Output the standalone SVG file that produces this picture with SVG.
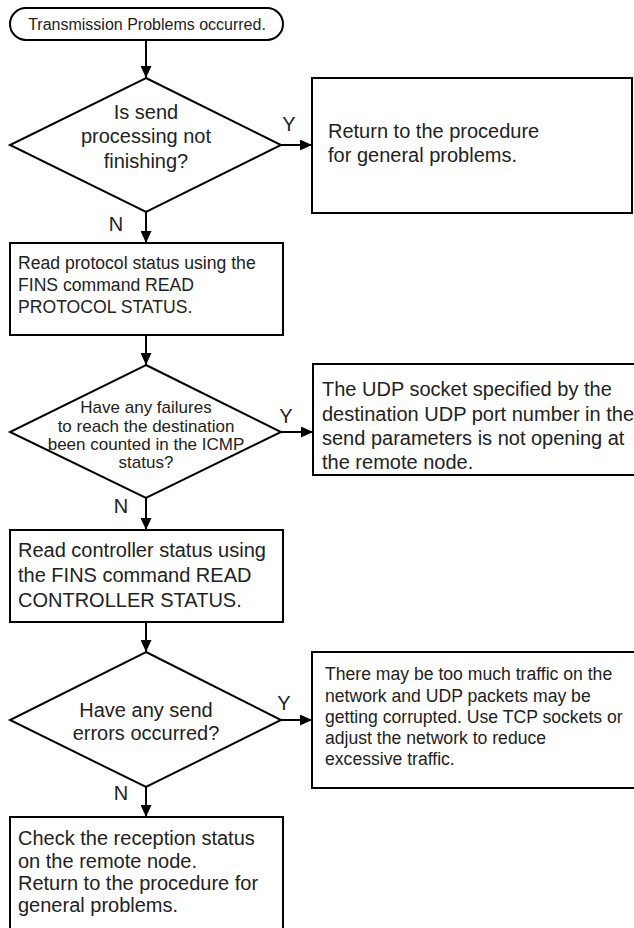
<svg xmlns="http://www.w3.org/2000/svg" width="634" height="928" viewBox="0 0 634 928">
<style>
.shape{fill:#fff;stroke:#000;stroke-width:2}
.t{font-family:"Liberation Sans",Arial,sans-serif;fill:#222}
.c{text-anchor:middle}
.edge{stroke:#000;stroke-width:2;fill:none}
</style>
<defs>
<marker id="ah" viewBox="0 0 12 11" refX="12" refY="5.5" markerWidth="12" markerHeight="11" markerUnits="userSpaceOnUse" orient="auto">
<path d="M0,0 L12,5.5 L0,11 Z" fill="#000"/>
</marker>
</defs>
<rect width="634" height="928" fill="#fff"/>
<g id="connectors">
<line class="edge" x1="146" y1="40" x2="146" y2="78" marker-end="url(#ah)"/>
<line class="edge" x1="281" y1="145" x2="312" y2="145" marker-end="url(#ah)"/>
<line class="edge" x1="146" y1="212" x2="146" y2="243" marker-end="url(#ah)"/>
<line class="edge" x1="146" y1="335" x2="146" y2="365" marker-end="url(#ah)"/>
<line class="edge" x1="281" y1="432" x2="313" y2="432" marker-end="url(#ah)"/>
<line class="edge" x1="146" y1="498" x2="146" y2="530" marker-end="url(#ah)"/>
<line class="edge" x1="146" y1="622" x2="146" y2="652" marker-end="url(#ah)"/>
<line class="edge" x1="281" y1="720" x2="312" y2="720" marker-end="url(#ah)"/>
<line class="edge" x1="146" y1="787" x2="146" y2="817" marker-end="url(#ah)"/>
<text class="t" x="289" y="131" font-size="20" text-anchor="middle">Y</text>
<text class="t" x="116" y="231" font-size="20" text-anchor="middle">N</text>
<text class="t" x="286" y="423" font-size="20" text-anchor="middle">Y</text>
<text class="t" x="121" y="513" font-size="20" text-anchor="middle">N</text>
<text class="t" x="284" y="710" font-size="20" text-anchor="middle">Y</text>
<text class="t" x="121" y="800" font-size="20" text-anchor="middle">N</text>
</g>
<g id="start">
<rect class="shape" x="10" y="8" width="273" height="32" rx="16" ry="16"/>
<text class="t c" x="147" y="30" font-size="16">Transmission Problems occurred.</text>
</g>
<g id="d1">
<polygon class="shape" points="146,78 281,145 146,212 10,145"/>
<text class="t c" font-size="20"><tspan x="146" y="119">Is send</tspan><tspan x="146" y="143">processing not</tspan><tspan x="146" y="168">finishing?</tspan></text>
</g>
<g id="b1">
<rect class="shape" x="312" y="78" width="320" height="135"/>
<text class="t" font-size="20"><tspan x="328" y="138">Return to the procedure</tspan><tspan x="328" y="162">for general problems.</tspan></text>
</g>
<g id="b2">
<rect class="shape" x="10" y="243" width="273" height="92"/>
<text class="t" font-size="17.6"><tspan x="18" y="269">Read protocol status using the</tspan><tspan x="18" y="291">FINS command READ</tspan><tspan x="18" y="313">PROTOCOL STATUS.</tspan></text>
</g>
<g id="d2">
<polygon class="shape" points="146,365 281,432 146,498 10,432"/>
<text class="t c" font-size="17"><tspan x="146" y="413">Have any failures</tspan><tspan x="146" y="432">to reach the destination</tspan><tspan x="146" y="450">been counted in the ICMP</tspan><tspan x="146" y="468">status?</tspan></text>
</g>
<g id="b3">
<rect class="shape" x="313" y="364" width="330" height="111"/>
<text class="t" font-size="20"><tspan x="322" y="396">The UDP socket specified by the</tspan><tspan x="322" y="421">destination UDP port number in the</tspan><tspan x="322" y="445">send parameters is not opening at</tspan><tspan x="322" y="469">the remote node.</tspan></text>
</g>
<g id="b4">
<rect class="shape" x="10" y="530" width="273" height="92"/>
<text class="t" font-size="20"><tspan x="18" y="557">Read controller status using</tspan><tspan x="18" y="582">the FINS command READ</tspan><tspan x="18" y="607">CONTROLLER STATUS.</tspan></text>
</g>
<g id="d3">
<polygon class="shape" points="146,652 281,720 146,787 10,720"/>
<text class="t c" font-size="20"><tspan x="146" y="717">Have any send</tspan><tspan x="146" y="740">errors occurred?</tspan></text>
</g>
<g id="b5">
<rect class="shape" x="312" y="652" width="330" height="136"/>
<text class="t" font-size="17.6"><tspan x="325" y="680">There may be too much traffic on the</tspan><tspan x="325" y="702">network and UDP packets may be</tspan><tspan x="325" y="723">getting corrupted. Use TCP sockets or</tspan><tspan x="325" y="744">adjust the network to reduce</tspan><tspan x="325" y="765">excessive traffic.</tspan></text>
</g>
<g id="b6">
<rect class="shape" x="10" y="817" width="273" height="130"/>
<text class="t" font-size="20"><tspan x="18" y="845">Check the reception status</tspan><tspan x="18" y="868">on the remote node.</tspan><tspan x="18" y="890">Return to the procedure for</tspan><tspan x="18" y="912">general problems.</tspan></text>
</g>
</svg>
